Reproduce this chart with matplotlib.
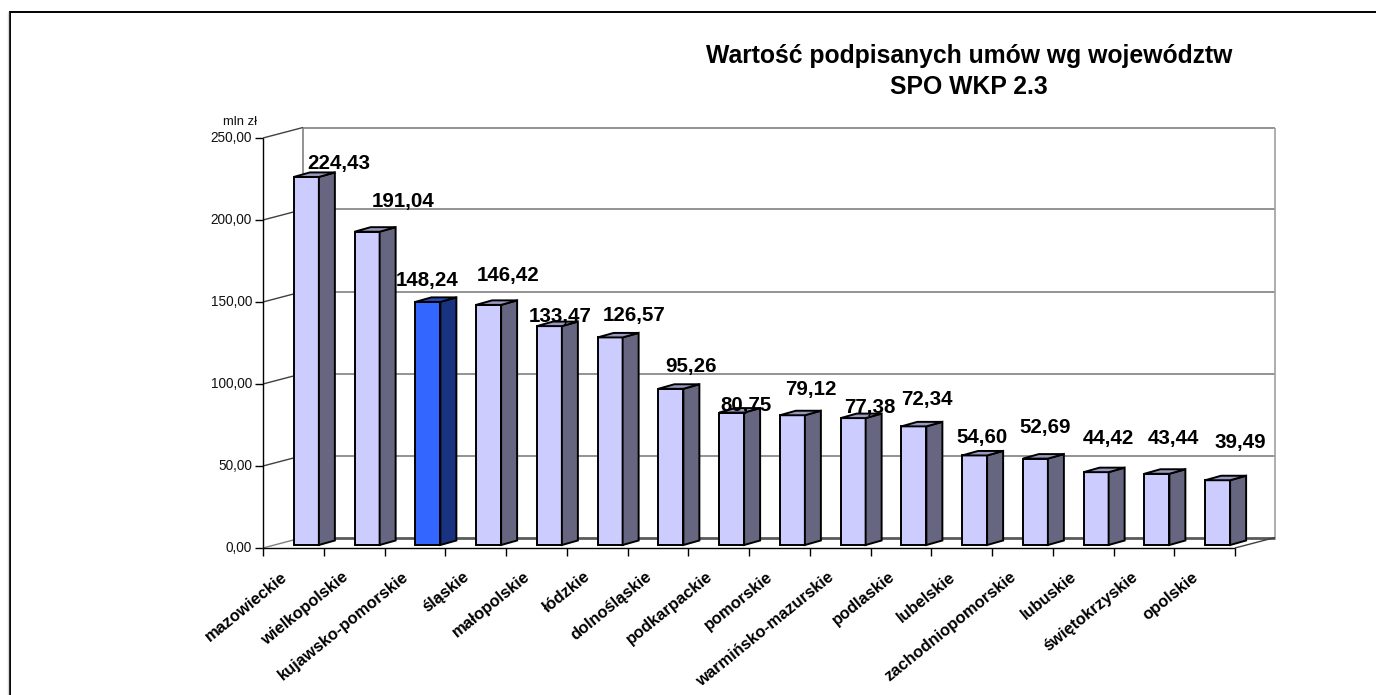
import matplotlib
matplotlib.use('Agg')
import matplotlib.pyplot as plt
from matplotlib.lines import Line2D
from matplotlib.patches import Polygon, Rectangle

plt.rcParams['font.family'] = ['Liberation Sans', 'DejaVu Sans']

# Data
regions = ['mazowieckie', 'wielkopolskie', 'kujawsko-pomorskie', 'śląskie', 'małopolskie',
           'łódzkie', 'dolnośląskie', 'podkarpackie', 'pomorskie', 'warmińsko-mazurskie',
           'podlaskie', 'lubelskie', 'zachodniopomorskie', 'lubuskie', 'świętokrzyskie', 'opolskie']
values = [224.43, 191.04, 148.24, 146.42, 133.47, 126.57, 95.26, 80.75,
          79.12, 77.38, 72.34, 54.60, 52.69, 44.42, 43.44, 39.49]
highlight = 'kujawsko-pomorskie'
yticks = [0, 50, 100, 150, 200, 250]

# label shift from the bar top, pixels
lab_dx = [32.5, 36, -1, 20, 11, 24, 20.5, 14.5, 18, 16.5, 13, 7, 10, 12, 17, 23]
lab_dy = [13.5, 30.5, 21.5, 29.5, 9.5, 21.5, 22.5, 7.5, 25.5, 10.5, 26.5, 17.5, 31.5, 33.5, 35.5, 37.5]

W, H = 1376, 695
fig = plt.figure(figsize=(W / 100, H / 100), dpi=100)

# front plane of the fake 3D box
left, right, top, bottom = 263, 1235, 138, 548
ax = fig.add_axes([left / W, 1 - bottom / H, (right - left) / W, (bottom - top) / H])
ax.set_xlim(-0.5, len(regions) - 0.5)
ax.set_ylim(0, 250)
ax.axis('off')

px = len(regions) / (right - left)   # data units per pixel
py = 250 / (bottom - top)
depth_x, depth_y = 40 * px, 10.5 * py
x0, x1 = -0.5, len(regions) - 0.5


def line(xs, ys, color='#808080', lw=1.0, z=1):
    ax.plot(xs, ys, color=color, lw=lw, zorder=z, clip_on=False, solid_capstyle='butt')


# back wall, floor and grid
for t in yticks:
    line([x0 + depth_x, x1 + depth_x], [t + depth_y, t + depth_y],
         color='#5a5a5a' if t == 0 else '#808080', lw=2 if t == 0 else 1.2)
    if t > 0:
        line([x0, x0 + depth_x], [t, t + depth_y], color='#404040')
line([x0 + depth_x, x0 + depth_x], [depth_y, 250 + depth_y], lw=1.2)
line([x1 + depth_x, x1 + depth_x], [depth_y, 250 + depth_y], color='#a0a0a0', lw=1.2)
line([x0, x0 + depth_x], [0, depth_y])
line([x1, x1 + depth_x], [0, depth_y], color='#404040')

# axes in front
line([x0, x0], [0, 250], color='black', z=2)
line([x0, x1], [0, 0], color='black', z=2)
for t in yticks:
    line([x0 - 8 * px, x0], [t, t], color='black', z=2)
    ax.text(x0 - 11 * px, t, f'{t:.2f}'.replace('.', ','), ha='right', va='center',
            fontsize=9.8, color='#111111')
for i in range(len(regions) + 1):
    line([x0 + i, x0 + i], [0, -8 * py], color='black', z=2)
ax.text(x0 - 40 * px, 250 + 16 * py, 'mln zł', ha='left', va='center', fontsize=9.4, color='#111111')

# bars
bar_w = 25 * px
side_x, side_y = 16 * px, 4.5 * py
shift = 13 * px
lift = 3 * py     # bars stand a bit behind the front plane
for i, (name, v) in enumerate(zip(regions, values)):
    a = i + shift - bar_w / 2
    b = a + bar_w
    if name == highlight:
        cf, cs, ct = '#3366ff', '#1a3380', '#264dbf'
    else:
        cf, cs, ct = '#ccccff', '#666680', '#9999bf'
    z = 5 + i
    floor = 3 * py
    h = v + lift
    ax.add_patch(Rectangle((a, floor), bar_w, h - floor, fc=cf, ec='black', lw=1.4, zorder=z, clip_on=False))
    ax.add_patch(Polygon([(b, floor), (b + side_x, floor + side_y), (b + side_x, h + side_y), (b, h)],
                         fc=cs, ec='black', lw=1.4, zorder=z, clip_on=False))
    ax.add_patch(Polygon([(a, h), (a + side_x, h + side_y), (b + side_x, h + side_y), (b, h)],
                         fc=ct, ec='black', lw=1.4, zorder=z, clip_on=False))
    ax.annotate(f'{v:.2f}'.replace('.', ','), (a + bar_w / 2, h), xytext=(lab_dx[i], lab_dy[i]),
                textcoords='offset pixels', ha='center', va='center', fontsize=14.8,
                fontweight='bold', color='black', zorder=40, annotation_clip=False)
    ax.annotate(name, (i, 0), xytext=(-13, -21), textcoords='offset pixels', ha='right', va='top',
                rotation=39, rotation_mode='anchor', fontsize=11.9, fontweight='bold',
                annotation_clip=False)

# title and outer frame
fig.text(969 / W, 1 - 56 / H, 'Wartość podpisanych umów wg województw', ha='center', va='center',
         fontsize=17.8, fontweight='bold')
fig.text(969 / W, 1 - 87 / H, 'SPO WKP 2.3', ha='center', va='center', fontsize=17.8, fontweight='bold')
fig.add_artist(Line2D([7.8 / W, 7.8 / W], [0, 1 - 11.5 / H], transform=fig.transFigure,
                      color='#d8d8d8', lw=1.0))
fig.add_artist(Rectangle((9.5 / W, -0.01), 1.02, 1 - 11.5 / H + 0.01, transform=fig.transFigure,
                         fc='none', ec='black', lw=1.4))

fig.savefig('out.png', dpi=100)
